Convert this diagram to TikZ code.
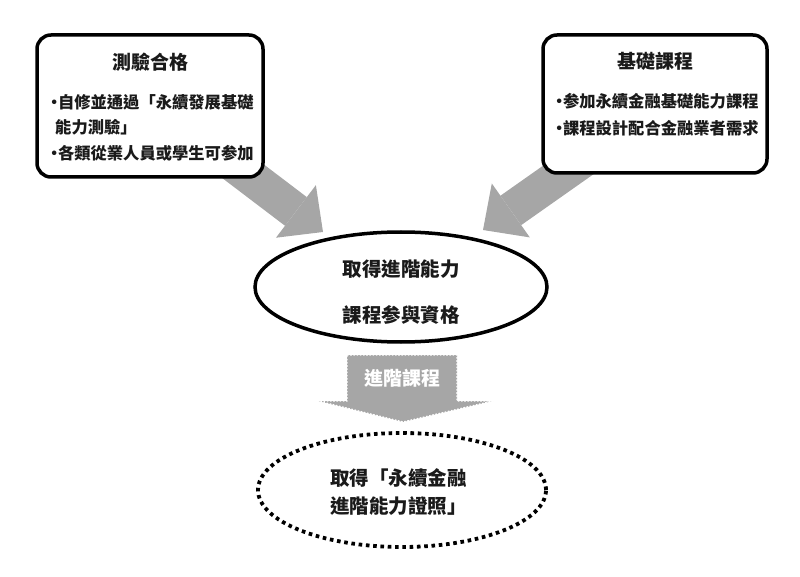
\documentclass[tikz,border=0pt]{standalone}
\usepackage{fontspec}
\setmainfont{Noto Sans CJK TC}
\usetikzlibrary{arrows.meta,shapes.geometric}
\definecolor{arrowgray}{RGB}{166,166,166}
\definecolor{ink}{RGB}{26,26,26}
\newcommand{\mybullet}{•\hspace{-4.5pt}}
\tikzset{
  roundbox/.style={draw=black, fill=white, line width=3.5pt, rounded corners=14pt, inner sep=0pt},
  fatarrow/.style={draw=arrowgray, line width=36pt, -{Triangle[length=34pt,width=66pt,line width=0pt]}},
  titletext/.style={font=\fontsize{19pt}{19pt}\selectfont\bfseries, text=ink, inner sep=0pt},
  bullettext/.style={font=\fontsize{16.3pt}{16.3pt}\selectfont\bfseries, text=ink, inner sep=0pt, anchor=west},
  ovaltext/.style={font=\fontsize{19.5pt}{19.5pt}\selectfont\bfseries, text=ink, inner sep=0pt},
  solidoval/.style={ellipse, draw=black, fill=white, line width=3.5pt, inner sep=0pt},
  dotoval/.style={ellipse, draw=black, line width=3.8pt, dash pattern=on 3.6pt off 3.7pt, inner sep=0pt},
  stamparrow/.style={fill=arrowgray, draw=white, line width=1.4pt, dash pattern=on 1.6pt off 1.6pt}
}
\begin{document}
\begin{tikzpicture}[x=1pt,y=-1pt]
\useasboundingbox (0,0) rectangle (800,577);
% big gray arrows (drawn first, boxes cover their tails)
\coordinate (a1s) at (216.6,151.2);
\coordinate (a1t) at (323,232);
\coordinate (a2s) at (591.8,153.4);
\coordinate (a2t) at (483,230);
\draw[fatarrow] (a1s) -- (a1t);
\draw[fatarrow] (a2s) -- (a2t);
% boxes
\node[roundbox, minimum width=226pt, minimum height=142pt] (b1) at (150,106) {};
\node[roundbox, minimum width=224pt, minimum height=138pt] (b2) at (655,104) {};
\node[titletext] (b1t) at (150,62) {測驗合格};
\node[bullettext] (b1l1) at (46,102) {\mybullet 自修並通過「永續發展基礎};
\node[bullettext] (b1l2) at (55,127.5) {能力測驗」};
\node[bullettext] (b1l3) at (46,153) {\mybullet 各類從業人員或學生可参加};
\node[titletext] (b2t) at (655,61) {基礎課程};
\node[bullettext] (b2l1) at (551,101) {\mybullet 参加永續金融基礎能力課程};
\node[bullettext] (b2l2) at (551,128) {\mybullet 課程設計配合金融業者需求};
% middle ellipse
\node[solidoval, minimum width=292pt, minimum height=110pt] (e1) at (401,287) {};
\node[ovaltext] (e1a) at (401,269) {取得進階能力};
\node[ovaltext] (e1b) at (401,315) {課程参與資格};
% down arrow
\node[inner sep=0pt] (lbl) at (402,378) {};
\draw[stamparrow] (347,355) -- (457,355) -- (457,401) -- (493,401) -- (403,422) -- (318,401) -- (347,401) -- cycle;
\node[font=\fontsize{19pt}{19pt}\selectfont\bfseries, text=white, inner sep=0pt] (lbltext) at (lbl) {進階課程};
% dotted ellipse
\node[dotoval, minimum width=288pt, minimum height=114pt] (e2) at (402,490) {};
\node[ovaltext, anchor=west] (e2a) at (330,478) {取得「永續金融};
\node[ovaltext, anchor=west] (e2b) at (330,506) {進階能力證照」};
\end{tikzpicture}
\end{document}
